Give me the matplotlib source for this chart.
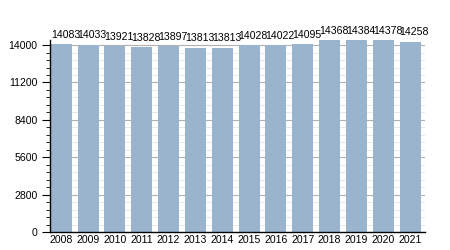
import matplotlib
matplotlib.use("Agg")
import matplotlib.pyplot as plt
from matplotlib.ticker import MultipleLocator

years = ["2008", "2009", "2010", "2011", "2012", "2013", "2014",
         "2015", "2016", "2017", "2018", "2019", "2020", "2021"]
values = [14083, 14033, 13921, 13828, 13897, 13813, 13813,
          14028, 14022, 14095, 14368, 14384, 14378, 14258]

plt.rcParams['font.family'] = ['Liberation Sans', 'DejaVu Sans']

fig = plt.figure(figsize=(4.5, 2.5), dpi=100)
ax = fig.add_axes([0.111, 0.072, 0.833, 0.769])

x = list(range(len(years)))
width = 0.78
ax.bar(x, values, width=width, color="#9bb4ce", zorder=2)
for xi, v in zip(x, values):
    ax.annotate(str(v), xy=(xi - width / 2, v), xytext=(0, 3),
                textcoords="offset points", ha="left", va="bottom",
                fontsize=7.6, color="black", zorder=3)

ax.set_xlim(-0.42, 13.55)
ax.set_ylim(0, 14400)
ax.yaxis.set_major_locator(MultipleLocator(2800))
ax.yaxis.set_minor_locator(MultipleLocator(560))
ax.set_xticks(x)
ax.set_xticklabels(years)
ax.tick_params(axis="x", length=0, labelsize=7.6, pad=2)
ax.tick_params(axis="y", which="major", length=6, labelsize=7.6, pad=3)
ax.tick_params(axis="y", which="minor", length=3)
ax.grid(axis="y", which="major", color="#b0b0b0", linewidth=0.8, zorder=0)
ax.grid(axis="y", which="minor", color="#e4e4e4", linewidth=0.6, zorder=0)
ax.set_axisbelow(True)
for s in ["top", "right"]:
    ax.spines[s].set_visible(False)
ax.spines["left"].set_linewidth(1.0)
ax.spines["bottom"].set_linewidth(1.0)

fig.savefig("out.png", dpi=100)
